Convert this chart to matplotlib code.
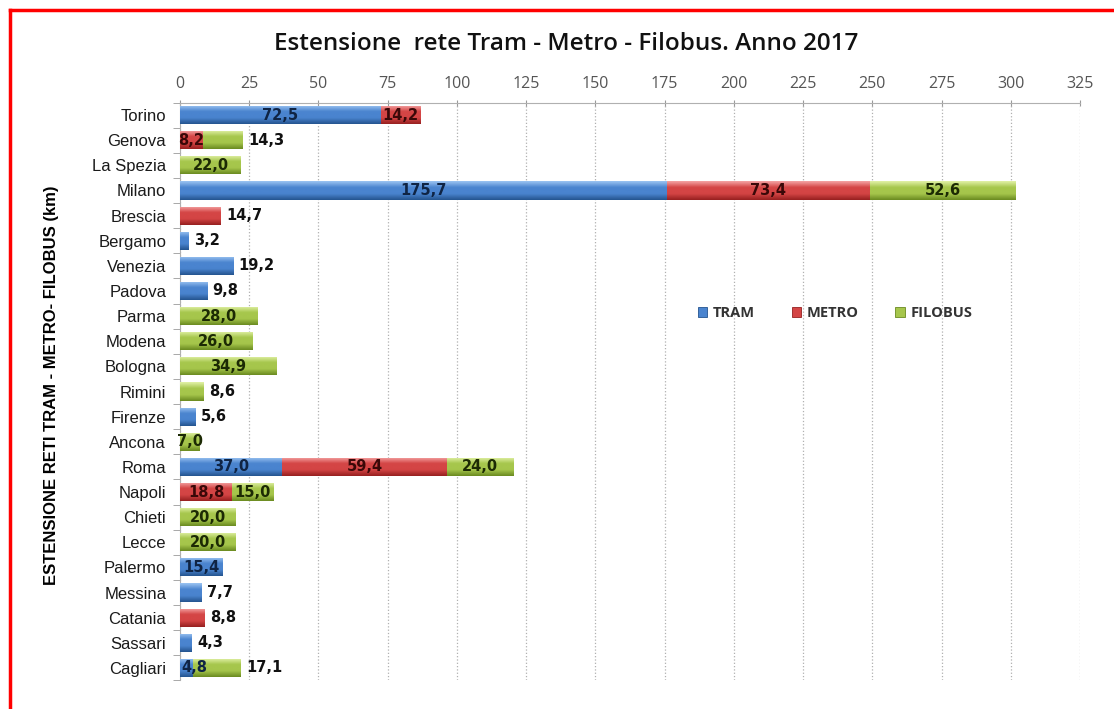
import numpy as np
import matplotlib
matplotlib.use("Agg")
import matplotlib.pyplot as plt
from matplotlib.colors import LinearSegmentedColormap
from matplotlib.lines import Line2D
from matplotlib.patches import Patch

# dati (km)
citta = ["Torino", "Genova", "La Spezia", "Milano", "Brescia", "Bergamo",
         "Venezia", "Padova", "Parma", "Modena", "Bologna", "Rimini",
         "Firenze", "Ancona", "Roma", "Napoli", "Chieti", "Lecce",
         "Palermo", "Messina", "Catania", "Sassari", "Cagliari"]
tram = [72.5, 0, 0, 175.7, 0, 3.2, 19.2, 9.8, 0, 0, 0, 0,
        5.6, 0, 37.0, 0, 0, 0, 15.4, 7.7, 0, 4.3, 4.8]
metro = [14.2, 8.2, 0, 73.4, 14.7, 0, 0, 0, 0, 0, 0, 0,
         0, 0, 59.4, 18.8, 0, 0, 0, 0, 8.8, 0, 0]
filobus = [0, 14.3, 22.0, 52.6, 0, 0, 0, 0, 28.0, 26.0, 34.9, 8.6,
           0, 7.0, 24.0, 15.0, 20.0, 20.0, 0, 0, 0, 0, 17.1]
xticks = list(range(0, 326, 25))

# etichette da mettere fuori dalla barra (citta, serie)
FUORI = {("Genova", "FILOBUS"), ("Brescia", "METRO"), ("Bergamo", "TRAM"),
         ("Venezia", "TRAM"), ("Padova", "TRAM"), ("Rimini", "FILOBUS"),
         ("Firenze", "TRAM"), ("Messina", "TRAM"), ("Catania", "METRO"),
         ("Sassari", "TRAM"), ("Cagliari", "FILOBUS")}

SERIE = [
    ("TRAM", tram, ("#9cc4f2", "#4a84cf", "#24548f"), "#0f2444"),
    ("METRO", metro, ("#f5a5a5", "#d44545", "#962020"), "#3a0808"),
    ("FILOBUS", filobus, ("#e2f2a8", "#a6c64c", "#6a8a20"), "#1c2a04"),
]

fig = plt.figure(figsize=(11.14, 7.09), dpi=100, facecolor="white")
ax = fig.add_axes([0.1616, 0.0402, 0.8079, 0.8152])

y = np.arange(len(citta))
left = np.zeros(len(citta))
grad = np.linspace(0, 1, 64).reshape(-1, 1)

for nome, vals, cols, tcol in SERIE:
    vals = np.array(vals)
    cmap = LinearSegmentedColormap.from_list(nome, [cols[0], cols[1], cols[1], cols[2]])
    bars = ax.barh(y, vals, left=left, height=0.72, color=cols[1], zorder=3,
                   linewidth=0)
    for b, v in zip(bars, vals):
        if v <= 0:
            continue
        x0, y0 = b.get_x(), b.get_y()
        im = ax.imshow(grad, cmap=cmap, aspect="auto", zorder=3.5,
                       extent=(x0, x0 + b.get_width(), y0 + b.get_height(), y0),
                       origin="upper", interpolation="bicubic")
        im.set_clip_path(b)
    for i, v in enumerate(vals):
        if v <= 0:
            continue
        txt = f"{v:.1f}".replace(".", ",")
        if (citta[i], nome) in FUORI:
            ax.annotate(txt, (left[i] + v, y[i]), xytext=(4, 0),
                        textcoords="offset points", ha="left", va="center",
                        fontsize=10.5, fontweight="bold", color="#111111", zorder=5)
        elif left[i] == 0 and v < 6:
            # barra troppo corta: etichetta allineata all'inizio
            ax.annotate(txt, (0, y[i]), xytext=(1, 0), textcoords="offset points",
                        ha="left", va="center", fontsize=10.5, fontweight="bold",
                        color=tcol, zorder=5)
        else:
            ax.text(left[i] + v / 2, y[i], txt, ha="center", va="center",
                    fontsize=10.5, fontweight="bold", color=tcol, zorder=5)
    left = left + vals

ax.set_xlim(0, 325)
ax.set_ylim(len(citta) - 0.5, -0.5)
ax.set_xticks(xticks)
ax.xaxis.tick_top()
ax.tick_params(axis="x", colors="#9a9a9a", labelcolor="#555555", labelsize=11.5,
               length=5, direction="inout", pad=5)
for lab in ax.get_xticklabels():
    lab.set_family("Open Sans")
ax.set_yticks(y)
ax.set_yticklabels(citta, fontsize=12, family="Liberation Sans", color="#1a1a1a")
ax.set_yticks(np.arange(-0.5, len(citta), 1), minor=True)
ax.tick_params(axis="y", which="major", length=0, pad=10)
ax.tick_params(axis="y", which="minor", length=5, color="#9a9a9a")
ax.grid(axis="x", color="#b0b0b0", linestyle=":", linewidth=0.9, zorder=0)
for s in ["right", "bottom"]:
    ax.spines[s].set_visible(False)
ax.spines["top"].set_color("#b0b0b0")
ax.spines["left"].set_color("#b0b0b0")

ax.set_ylabel("ESTENSIONE RETI TRAM - METRO- FILOBUS (km)", fontsize=12,
              fontweight="bold", family="Liberation Sans")
ax.yaxis.set_label_coords(-0.134, 0.51)

fig.text(0.508, 0.938, "Estensione  rete Tram - Metro - Filobus. Anno 2017",
         ha="center", va="center", fontsize=17.5, family="Open Sans",
         fontweight="semibold", color="#111111")

handles = [Patch(facecolor=c[1], edgecolor=c[2], linewidth=0.6) for _, _, c, _ in SERIE]
leg = ax.legend(handles, [s[0] for s in SERIE], ncol=3, frameon=False,
                loc="center", bbox_to_anchor=(0.728, 0.635), handlelength=0.65,
                handleheight=0.65, columnspacing=2.5, handletextpad=0.4,
                prop={"family": "Open Sans", "weight": "bold", "size": 10.5})
for t in leg.get_texts():
    t.set_color("#333333")

# cornice rossa
fig.add_artist(Line2D([0.009, 0.009], [0.0, 0.986], color="red", linewidth=2.5))
fig.add_artist(Line2D([0.009, 1.0], [0.986, 0.986], color="red", linewidth=2.5))

fig.savefig("out.png", dpi=100, facecolor=fig.get_facecolor())
